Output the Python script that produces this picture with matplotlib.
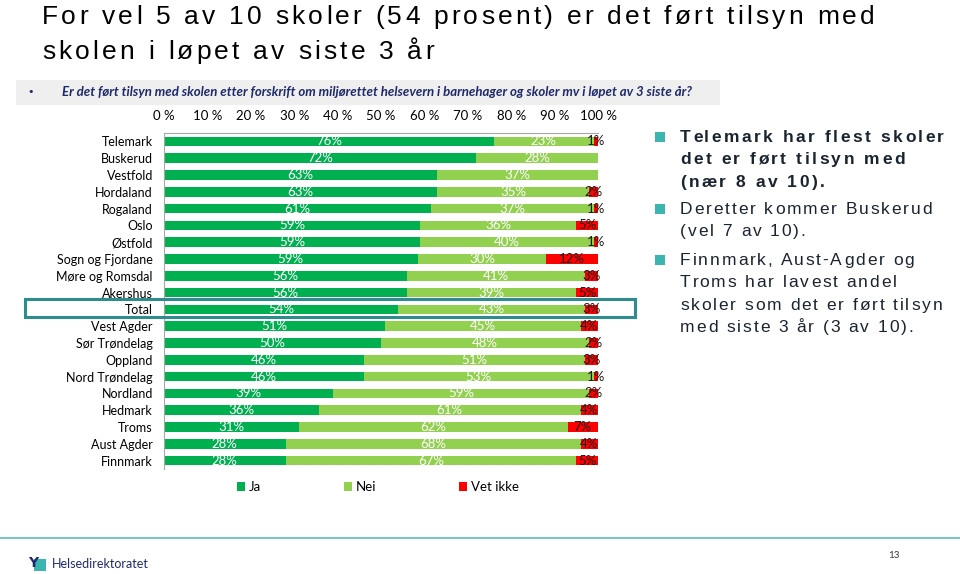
import numpy as np
import matplotlib.pyplot as plt
from matplotlib.patches import Rectangle
from matplotlib.lines import Line2D
from matplotlib.font_manager import FontProperties

# data (percent of schools)
fylker = ["Telemark", "Buskerud", "Vestfold", "Hordaland", "Rogaland", "Oslo", "Østfold",
          "Sogn og Fjordane", "Møre og Romsdal", "Akershus", "Total", "Vest Agder",
          "Sør Trøndelag", "Oppland", "Nord Trøndelag", "Nordland", "Hedmark", "Troms",
          "Aust Agder", "Finnmark"]
ja = [76, 72, 63, 63, 61, 59, 59, 59, 56, 56, 54, 51, 50, 46, 46, 39, 36, 31, 28, 28]
nei = [23, 28, 37, 35, 37, 36, 40, 30, 41, 39, 43, 45, 48, 51, 53, 59, 61, 62, 68, 67]
vet_ikke = [1, 0, 0, 2, 1, 5, 1, 12, 3, 5, 3, 4, 2, 3, 1, 2, 4, 7, 4, 5]
serier = ["Ja", "Nei", "Vet ikke"]
x_ticks = [0, 10, 20, 30, 40, 50, 60, 70, 80, 90, 100]

farger = ["#00B050", "#92D050", "#FF0000"]
tekstfarger = ["white", "white", "#1a1a1a"]

W, H = 960, 574
fig = plt.figure(figsize=(W / 100, H / 100), dpi=100)
renderer = fig.canvas.get_renderer()


def fx(x):
    return x / W


def fy(y):
    return 1 - y / H


def sperret_tekst(x, y, s, sporing, fp, **kw):
    # text with extra letter spacing (px), drawn one glyph at a time
    strek = renderer.get_text_width_height_descent("|", fp, ismath=False)[0]
    for k, c in enumerate(s):
        if c == " ":
            continue
        w = 0
        if k:
            w = renderer.get_text_width_height_descent(s[:k] + "|", fp, ismath=False)[0] - strek
        fig.text(fx(x + w + k * sporing), fy(y), c, fontproperties=fp, va="baseline", **kw)


# title
tittel_fp = FontProperties(family="Liberation Sans", size=19)
sperret_tekst(42, 24, "For vel 5 av 10 skoler (54 prosent) er det ført tilsyn med", 3.2, tittel_fp)
sperret_tekst(42, 59, "skolen i løpet av siste 3 år", 3.2, tittel_fp)

# question band
fig.patches.append(Rectangle((fx(16), fy(105)), fx(704), 25 / H, transform=fig.transFigure,
                             facecolor="#efefef", edgecolor="none", zorder=0))
fig.text(fx(27), fy(92), "•", fontsize=8, color="#1F2A6B", va="center")
fig.text(fx(62), fy(92),
         "Er det ført tilsyn med skolen etter forskrift om miljørettet helsevern i barnehager og skoler mv i løpet av 3 siste år?",
         fontsize=9.5, family="Lato", weight="bold", style="italic", color="#1F2A6B", va="center")

# chart
ax = fig.add_axes([fx(164), fy(469), fx(598 - 164), (469 - 133) / H])
data = np.array([ja, nei, vet_ikke], dtype=float)
andel = data / data.sum(axis=0) * 100
y = np.arange(len(fylker))
venstre = np.zeros(len(fylker))
for i, navn in enumerate(serier):
    ax.barh(y, andel[i], left=venstre, height=0.56, color=farger[i], label=navn)
    for j in range(len(fylker)):
        if data[i, j] > 0:
            ax.text(venstre[j] + andel[i, j] / 2, y[j], f"{int(data[i, j])}%",
                    ha="center", va="center", fontsize=9.5, family="Lato",
                    color=tekstfarger[i])
    venstre += andel[i]

ax.set_xlim(0, 100)
ax.set_ylim(len(fylker) - 0.5, -0.5)
ax.set_yticks(y)
ax.set_yticklabels(fylker, family="Lato", fontsize=9)
ax.set_xticks(x_ticks)
ax.set_xticklabels([f"{v} %" for v in x_ticks], family="Lato", fontsize=9.5)
ax.xaxis.tick_top()
ax.tick_params(length=0, pad=8)
ax.tick_params(axis="y", pad=8)
for s in ["right", "bottom"]:
    ax.spines[s].set_visible(False)
for s in ["top", "left"]:
    ax.spines[s].set_color("#a6a6a6")

# highlight box around Total
fig.patches.append(Rectangle((fx(25), fy(317)), fx(610), 18 / H, transform=fig.transFigure,
                             facecolor="none", edgecolor="#2E8B8E", linewidth=2.2, zorder=5))

# legend
leg = fig.legend(loc="center", bbox_to_anchor=(fx(378), fy(487)), ncol=3, frameon=False,
                 prop={"family": "Lato", "size": 9.5}, handlelength=0.6, handleheight=0.6,
                 columnspacing=6.3, handletextpad=0.3)

# right hand comments
punkter = [
    (["Telemark har flest skoler", "det er ført tilsyn med", "(nær 8 av 10)."], "bold", 142, 2.5),
    (["Deretter kommer Buskerud", "(vel 7 av 10)."], "normal", 214, 1.9),
    (["Finnmark, Aust-Agder og", "Troms har lavest andel", "skoler som det er ført tilsyn",
      "med siste 3 år (3 av 10)."], "normal", 265, 1.9),
]
for linjer, vekt, ybase, sporing in punkter:
    fp = FontProperties(family="Liberation Sans", size=12.5, weight=vekt)
    fig.patches.append(Rectangle((fx(655), fy(ybase)), fx(10), 10 / H, transform=fig.transFigure,
                                 facecolor="#3CB4B0", edgecolor="none"))
    for k, linje in enumerate(linjer):
        sperret_tekst(680, ybase + k * 22.3, linje, sporing, fp, color="#1a2430")

# footer
fig.add_artist(Line2D([0, 1], [fy(538), fy(538)], transform=fig.transFigure,
                      color="#5BBFB5", linewidth=1.2))
fig.patches.append(Rectangle((fx(34), fy(571)), fx(12), 12 / H, transform=fig.transFigure,
                             facecolor="#3CB4B0", edgecolor="none"))
fig.text(fx(28), fy(563), "Y", fontsize=10, weight="bold", color="#1F2A6B", va="center")
fig.text(fx(52), fy(564), "Helsedirektoratet", fontsize=9, family="Lato",
         color="#1F2A6B", va="center")
fig.text(fx(888), fy(555), "13", fontsize=7, family="Lato", color="#333333", va="center")

fig.savefig("out.png", dpi=100)
